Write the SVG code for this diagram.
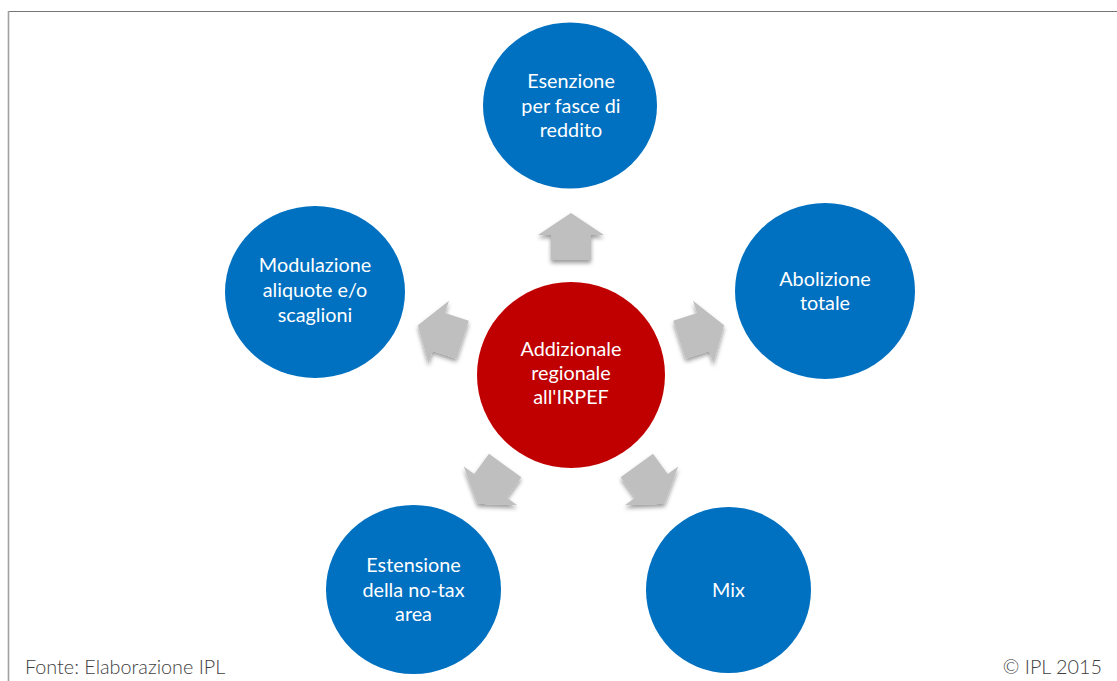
<svg xmlns="http://www.w3.org/2000/svg" width="1117" height="681" viewBox="0 0 1117 681">
  <defs>
    <style>
      .node { fill: #0070C0; }
      .core { fill: #C00000; }
      .lbl { font-family: "Lato", "Noto Sans", sans-serif; font-size: 19.8px; fill: #ffffff; text-anchor: middle; }
      .foot { font-family: "Lato", "Noto Sans", sans-serif; font-size: 19.8px; fill: #404040; font-weight: 300; }
      .arrow { fill: #BFBFBF; }
    </style>
    <filter id="shadow" x="-40%" y="-40%" width="180%" height="180%">
      <feDropShadow dx="0" dy="3" stdDeviation="2" flood-color="#000" flood-opacity="0.4"/>
    </filter>
    <path id="arr" d="M0,-24 L33,-2 L20,-2 L20,23 L-20,23 L-20,-2 L-33,-2 Z"/>
  </defs>
  <rect width="1117" height="681" fill="#ffffff"/>
  <line x1="8.5" y1="11.5" x2="1117" y2="11.5" stroke="#767676" stroke-width="1"/>
  <line x1="8.5" y1="11" x2="8.5" y2="681" stroke="#a0a0a0" stroke-width="1.6"/>

  <g id="connectors">
    <g filter="url(#shadow)"><use href="#arr" class="arrow" transform="rotate(0 571 375) translate(571 237)"/></g>
    <g filter="url(#shadow)"><use href="#arr" class="arrow" transform="rotate(72 571 375) translate(571 238)"/></g>
    <g filter="url(#shadow)"><use href="#arr" class="arrow" transform="rotate(144 571 375) translate(571 240)"/></g>
    <g filter="url(#shadow)"><use href="#arr" class="arrow" transform="rotate(216 571 375) translate(571 240)"/></g>
    <g filter="url(#shadow)"><use href="#arr" class="arrow" transform="rotate(288 571 375) translate(571 238)"/></g>
  </g>

  <g id="center">
    <ellipse class="core" cx="571" cy="375" rx="94" ry="93"/>
    <text class="lbl" x="571" y="356">Addizionale</text>
    <text class="lbl" x="571" y="380">regionale</text>
    <text class="lbl" x="571" y="404">all'IRPEF</text>
  </g>
  <g id="n-esenzione">
    <ellipse class="node" cx="570" cy="105.5" rx="87" ry="83"/>
    <text class="lbl" x="571" y="88">Esenzione</text>
    <text class="lbl" x="571" y="113">per fasce di</text>
    <text class="lbl" x="571" y="137">reddito</text>
  </g>
  <g id="n-abolizione">
    <ellipse class="node" cx="825" cy="291" rx="90" ry="88"/>
    <text class="lbl" x="825" y="285.5">Abolizione</text>
    <text class="lbl" x="825" y="310">totale</text>
  </g>
  <g id="n-mix">
    <ellipse class="node" cx="728.5" cy="590" rx="82.5" ry="83"/>
    <text class="lbl" x="728.5" y="596.5">Mix</text>
  </g>
  <g id="n-estensione">
    <ellipse class="node" cx="413.5" cy="589.5" rx="87.5" ry="84.5"/>
    <text class="lbl" x="413.5" y="571.5">Estensione</text>
    <text class="lbl" x="413.5" y="596.5">della no-tax</text>
    <text class="lbl" x="413.5" y="621">area</text>
  </g>
  <g id="n-modulazione">
    <ellipse class="node" cx="315" cy="292" rx="90" ry="86"/>
    <text class="lbl" x="315" y="272">Modulazione</text>
    <text class="lbl" x="315" y="297">aliquote e/o</text>
    <text class="lbl" x="315" y="321.5">scaglioni</text>
  </g>

  <text class="foot" x="25" y="674">Fonte: Elaborazione IPL</text>
  <text class="foot" x="1102" y="674" text-anchor="end">© IPL 2015</text>
</svg>
